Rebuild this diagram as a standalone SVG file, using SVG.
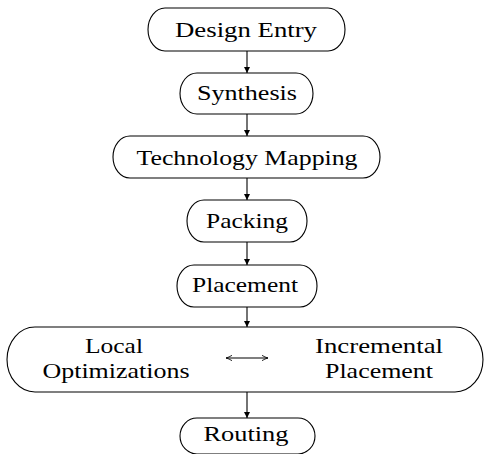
<svg xmlns="http://www.w3.org/2000/svg" width="484" height="454" viewBox="0 0 484 454">
<defs>
<marker id="ah" viewBox="0 0 10 10" refX="10" refY="5" markerWidth="6" markerHeight="8" markerUnits="userSpaceOnUse" orient="auto"><path d="M0,0 L10,5 L0,10 Z" fill="#000"/></marker>
<marker id="sh" viewBox="0 0 10 10" refX="9" refY="5" markerWidth="7" markerHeight="7" markerUnits="userSpaceOnUse" orient="auto-start-reverse"><path d="M0,1 Q5,4 9,5 Q5,6 0,9" fill="none" stroke="#000" stroke-width="1.2"/></marker>
</defs>
<style>
.n{fill:#fff;stroke:#000;stroke-width:1.1}
text{font-family:"Liberation Serif","DejaVu Serif",serif;font-size:22px;fill:#000;text-anchor:middle}
.c{stroke:#000;stroke-width:1.1;fill:none}
</style>
<rect width="484" height="454" fill="#fff"/>
<g id="connectors">
<line class="c" x1="247" y1="51" x2="247" y2="73" marker-end="url(#ah)"/>
<line class="c" x1="247" y1="114" x2="247" y2="136" marker-end="url(#ah)"/>
<line class="c" x1="247" y1="178" x2="247" y2="200" marker-end="url(#ah)"/>
<line class="c" x1="247" y1="242" x2="247" y2="265" marker-end="url(#ah)"/>
<line class="c" x1="247" y1="307" x2="247" y2="327" marker-end="url(#ah)"/>
<line class="c" x1="247" y1="392" x2="247" y2="418" marker-end="url(#ah)"/>
</g>
<g font-family="Liberation Serif, DejaVu Serif, serif">
<g id="design-entry"><rect class="n" x="148" y="8" width="197" height="43" rx="17" ry="21.5"/><text x="246" y="37" textLength="142" lengthAdjust="spacingAndGlyphs">Design Entry</text></g>
<g id="synthesis"><rect class="n" x="180" y="73" width="133" height="41" rx="17" ry="20.5"/><text x="247" y="100" textLength="100" lengthAdjust="spacingAndGlyphs">Synthesis</text></g>
<g id="technology-mapping"><rect class="n" x="113" y="136" width="267" height="42" rx="17" ry="21"/><text x="247" y="165" textLength="221" lengthAdjust="spacingAndGlyphs">Technology Mapping</text></g>
<g id="packing"><rect class="n" x="187" y="200" width="120" height="42" rx="17" ry="21"/><text x="247" y="228" textLength="82" lengthAdjust="spacingAndGlyphs">Packing</text></g>
<g id="placement"><rect class="n" x="177" y="265" width="140" height="42" rx="17" ry="21"/><text x="245" y="292" textLength="106" lengthAdjust="spacingAndGlyphs">Placement</text></g>
<g id="local-incremental"><rect class="n" x="7" y="327" width="476" height="65" rx="28" ry="32.5"/>
<text x="114" y="353" textLength="58" lengthAdjust="spacingAndGlyphs">Local</text><text x="116" y="378" textLength="147" lengthAdjust="spacingAndGlyphs">Optimizations</text>
<text x="379" y="353" textLength="128" lengthAdjust="spacingAndGlyphs">Incremental</text><text x="379" y="378" textLength="108" lengthAdjust="spacingAndGlyphs">Placement</text>
<line class="c" x1="226" y1="358" x2="268" y2="358" marker-start="url(#sh)" marker-end="url(#sh)"/>
</g>
<g id="routing"><rect class="n" x="180" y="418" width="135" height="36" rx="17" ry="18"/><text x="246" y="441" textLength="85" lengthAdjust="spacingAndGlyphs">Routing</text></g>
</g>
</svg>
